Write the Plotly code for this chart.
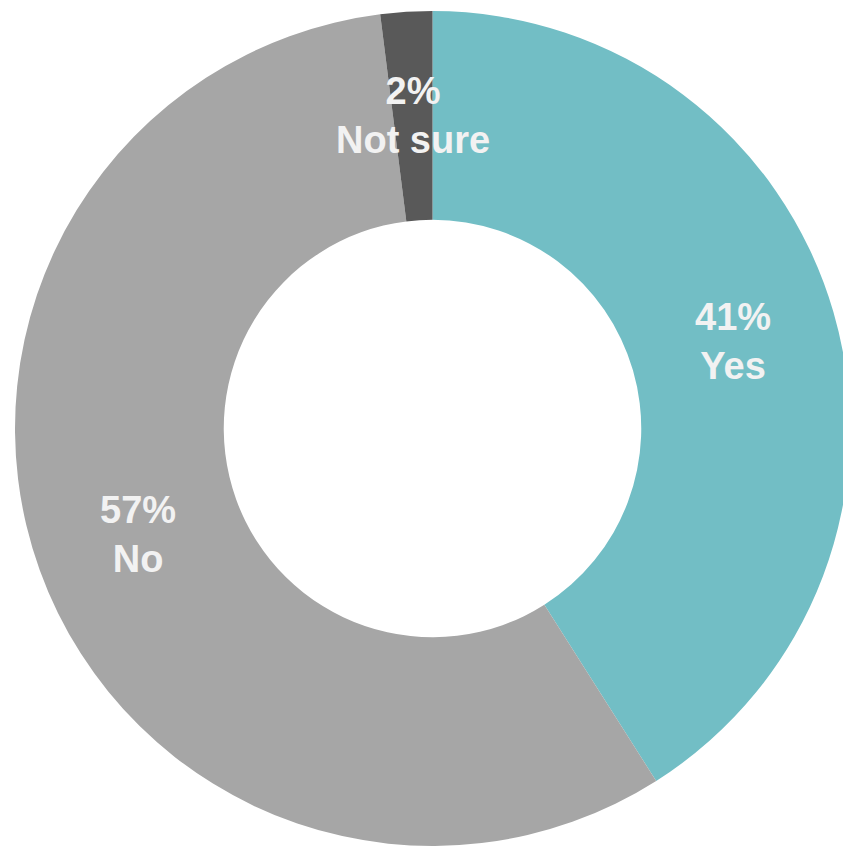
import math
import plotly.graph_objects as go

labels = ["Yes", "No", "Not sure"]
values = [41, 57, 2]
colors = ["#72BEC5", "#A6A6A6", "#595959"]

HOLE = 0.5

fig = go.Figure(go.Pie(
    labels=labels,
    values=values,
    hole=HOLE,
    sort=False,
    direction="clockwise",
    rotation=0,
    marker=dict(colors=colors, line=dict(color="white", width=0)),
    textinfo="none",
    showlegend=False,
    hoverinfo="label+percent",
))

# Place labels at the middle of each ring segment (computed from the data)
total = sum(values)
cum = 0.0
r_mid = 0.5 * (1 + HOLE) / 2
for lab, val in zip(labels, values):
    mid = (cum + val / 2) / total * 2 * math.pi
    cum += val
    fig.add_annotation(
        x=0.5 + r_mid * math.sin(mid),
        y=0.5 + r_mid * math.cos(mid),
        xref="paper", yref="paper",
        xanchor="center", yanchor="middle",
        text=f"{val}%<br>{lab}",
        showarrow=False,
        font=dict(family="Liberation Sans, Arial, sans-serif", size=38,
                  color="#F2F2F2", weight="bold"),
    )

fig.update_layout(
    width=851, height=849,
    margin=dict(l=7, r=9, t=3, b=11),
    paper_bgcolor="white",
    plot_bgcolor="white",
)

fig.write_html("out.html")
